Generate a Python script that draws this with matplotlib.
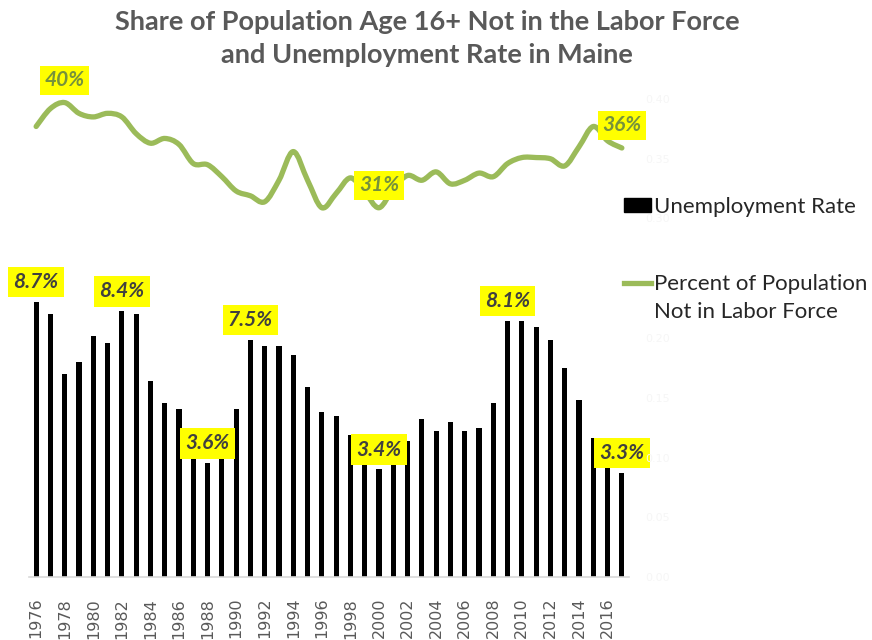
import matplotlib
matplotlib.use("Agg")
import matplotlib.pyplot as plt
from matplotlib.path import Path
from matplotlib.patches import PathPatch, Patch
from matplotlib.lines import Line2D
import numpy as np

# ---------------- data ----------------
years = list(range(1976, 2018))
unemployment = [8.7, 8.3, 6.4, 6.8, 7.6, 7.4, 8.4, 8.3, 6.2, 5.5,
                5.3, 4.1, 3.6, 3.9, 5.3, 7.5, 7.3, 7.3, 7.0, 6.0,
                5.2, 5.1, 4.5, 4.0, 3.4, 3.8, 4.3, 5.0, 4.6, 4.9,
                4.6, 4.7, 5.5, 8.1, 8.1, 7.9, 7.5, 6.6, 5.6, 4.4,
                3.8, 3.3]
not_in_lf = [0.377, 0.392, 0.397, 0.388, 0.385, 0.388, 0.385, 0.371, 0.363, 0.367,
             0.362, 0.346, 0.345, 0.335, 0.323, 0.319, 0.314, 0.332, 0.356, 0.332,
             0.309, 0.321, 0.334, 0.322, 0.309, 0.325, 0.336, 0.332, 0.339, 0.329,
             0.332, 0.338, 0.335, 0.346, 0.351, 0.351, 0.350, 0.344, 0.360, 0.377,
             0.365, 0.359]
bar_label_years = [1976, 1982, 1988, 1991, 2000, 2009, 2017]
line_label_years = [1978, 2000, 2017]
tick_years = years[::2]
right_ticks = [0.00, 0.05, 0.10, 0.15, 0.20, 0.25, 0.30, 0.35, 0.40]
right_tick_labels = ["0.00", "0.05", "0.10", "0.15", "0.20", "", "0.30", "0.35", "0.40"]
title = "Share of Population Age 16+ Not in the Labor Force\nand Unemployment Rate in Maine"
legend_labels = ["Unemployment Rate", "Percent of Population"]
legend_label_cont = "Not in Labor Force"

GREEN = "#9BBB59"
FONT = ["Lato", "DejaVu Sans"]

fig = plt.figure(figsize=(8.72, 6.4), dpi=100)
fig.patch.set_facecolor("white")
ax = fig.add_axes([29 / 872, 1 - 577 / 640, 600 / 872, 478 / 640])
ax2 = ax.twinx()

x = np.arange(len(years))

# bars (primary axis, percent)
ax.bar(x, unemployment, width=0.36, color="black", zorder=2)
ax.set_xlim(-0.5, len(years) - 0.5)
ax.set_ylim(0, 15.1)
ax.set_yticks([])
for s in ["top", "right", "left"]:
    ax.spines[s].set_visible(False)
ax.spines["bottom"].set_color("#d9d9d9")
ax.spines["bottom"].set_linewidth(1.2)
ax.set_xticks([years.index(y) for y in tick_years])
ax.set_xticklabels([str(y) for y in tick_years], rotation=90, color="#595959",
                   fontsize=11.5, family="DejaVu Sans")
ax.tick_params(axis="x", length=0, pad=15)

for yv in bar_label_years:
    i = years.index(yv)
    v = unemployment[i]
    ax.annotate(f"{v:.1f}%", xy=(i, v), xytext=(0, 7), textcoords="offset points",
                ha="center", va="bottom", fontsize=15, fontweight="bold",
                fontstyle="italic", family=FONT, color="#404040", zorder=5,
                bbox=dict(boxstyle="square,pad=0.25", fc="#FFFF00", ec="none"))

# smoothed line (secondary axis) - cubic Bezier through the data points
ax2.set_ylim(0, 0.40)
ax2.set_xlim(-0.5, len(years) - 0.5)
pts = np.column_stack([x, not_in_lf])
verts = [tuple(pts[0])]
codes = [Path.MOVETO]
n = len(pts)
for k in range(n - 1):
    p0 = pts[k - 1] if k > 0 else pts[k]
    p1 = pts[k]
    p2 = pts[k + 1]
    p3 = pts[k + 2] if k + 2 < n else pts[k + 1]
    c1 = p1 + (p2 - p0) / 6.0
    c2 = p2 - (p3 - p1) / 6.0
    verts += [tuple(c1), tuple(c2), tuple(p2)]
    codes += [Path.CURVE4, Path.CURVE4, Path.CURVE4]
ax2.add_patch(PathPatch(Path(verts, codes), fill=False, edgecolor=GREEN, lw=3.8,
                        capstyle="round", joinstyle="round", zorder=3))

ax2.set_yticks(right_ticks)
ax2.set_yticklabels(right_tick_labels, color="#f6f6f6", fontsize=8)
ax2.tick_params(axis="y", length=0, pad=12)
for s in ["top", "right", "left", "bottom"]:
    ax2.spines[s].set_visible(False)

for yv in line_label_years:
    i = years.index(yv)
    v = not_in_lf[i]
    ax2.annotate(f"{v * 100:.0f}%", xy=(i, v), xytext=(0, 9), textcoords="offset points",
                 ha="center", va="bottom", fontsize=15, fontweight="bold",
                 fontstyle="italic", family=FONT, color="#76923C", zorder=6,
                 bbox=dict(boxstyle="square,pad=0.22", fc="#FFFF00", ec="none"))

# title
fig.text(0.49, 0.984, title, ha="center", va="top", fontsize=19.5, fontweight="bold",
         color="#595959", family=FONT, linespacing=1.45)

# legend
handles = [Patch(facecolor="black", edgecolor="black"),
           Line2D([0], [0], color=GREEN, lw=3.8)]
leg = fig.legend(handles, legend_labels, loc="upper left",
                 bbox_to_anchor=(615 / 872, 1 - 188 / 640), frameon=False,
                 prop=dict(family=FONT, size=16), handlelength=1.2, handleheight=0.55,
                 handletextpad=0.15, labelspacing=2.58, labelcolor="#262626",
                 borderaxespad=0)
fig.text(654 / 872, 1 - 312 / 640, legend_label_cont, ha="left", va="center",
         fontsize=16, family=FONT, color="#262626")

fig.savefig("out.png", dpi=100, facecolor="white")
